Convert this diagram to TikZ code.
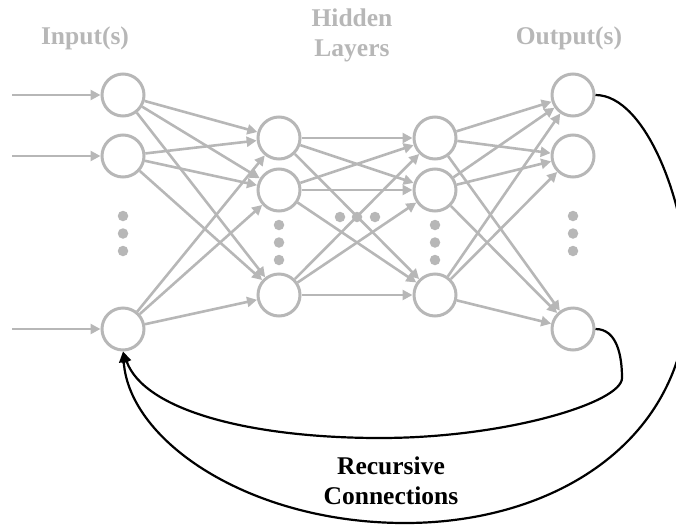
\documentclass[tikz,border=0pt]{standalone}
\usepackage{fontspec}
\setmainfont{Liberation Serif}
\usetikzlibrary{arrows.meta}
\definecolor{netGray}{RGB}{183,183,183}
\newcommand{\verticalDots}[3]{%%
  %% Three dots standing for the nodes left out.
  \node[dotStyle] (#1a) at (#2,#3) {};
  \node[dotStyle] (#1b) at (#2,#3-17.5) {};
  \node[dotStyle] (#1c) at (#2,#3-35) {};
}
\newcommand{\fullLink}[2]{%%
  %% Every node of one layer to every node of the next.
  \foreach \s in {1,2,3}{%%
    \foreach \t in {1,2,3}{%%
      \draw[linkStyle] (#1\s) -- (#2\t);
    }
  }
}

\begin{document}
\begin{tikzpicture}[%%
  x=1pt,y=1pt,
  neuronStyle/.style={draw=netGray,circle,line width=3pt,minimum size=42pt,inner sep=0pt},%%
  linkStyle/.style={-{Triangle[length=10pt,width=10pt]},draw=netGray,fill=netGray,line width=2.6pt},%%
  dotStyle/.style={circle,fill=netGray,minimum size=10.5pt,inner sep=0pt},%%
  labelStyle/.style={font=\bfseries\fontsize{25.5}{30}\selectfont,text=netGray,align=center},%%
  loopStyle/.style={-{Triangle[length=11pt,width=9pt]},black,line width=2.2pt}
]
\clip (0,0) rectangle (676,-525);
%%
%% The layers.
\node[neuronStyle] (in1) at (123,-95) {};
\node[neuronStyle] (in2) at (123,-156) {};
\node[neuronStyle] (in3) at (123,-329) {};
\node[neuronStyle] (ha1) at (279,-138) {};
\node[neuronStyle] (ha2) at (279,-190) {};
\node[neuronStyle] (ha3) at (279,-295) {};
\node[neuronStyle] (hb1) at (435,-138) {};
\node[neuronStyle] (hb2) at (435,-190) {};
\node[neuronStyle] (hb3) at (435,-295) {};
\node[neuronStyle] (out1) at (573,-95) {};
\node[neuronStyle] (out2) at (573,-156) {};
\node[neuronStyle] (out3) at (573,-329) {};
%%
%% The nodes left out.
\verticalDots{inDot}{123}{-216}
\verticalDots{haDot}{279}{-225}
\verticalDots{hbDot}{435}{-225}
\verticalDots{outDot}{573}{-216}
\node[dotStyle] (midDotA) at (340,-217) {};
\node[dotStyle] (midDotB) at (357,-217) {};
\node[dotStyle] (midDotC) at (375,-217) {};
%%
%% The inputs.
\coordinate (src1) at (12,-95);
\coordinate (src2) at (12,-156);
\coordinate (src3) at (12,-329);
\draw[linkStyle] (src1) -- (in1);
\draw[linkStyle] (src2) -- (in2);
\draw[linkStyle] (src3) -- (in3);
%%
%% The weights.
\fullLink{in}{ha}
\fullLink{ha}{hb}
\fullLink{hb}{out}
%%
%% The titles.
\node[labelStyle] (inputTitle) at (85,-38.5) {Input(s)};
\node[labelStyle] (hiddenTitle) at (352,-35) {Hidden\\Layers};
\node[labelStyle] (outputTitle) at (569,-38.5) {Output(s)};
\node[labelStyle,text=black] (loopTitle) at (391,-481) {Recursive\\Connections};
%%
%% The recursive connections.
\coordinate (innerTurn) at (622,-378);
\coordinate (innerBase) at (380,-438);
\coordinate (outerTurn) at (688,-290);
\coordinate (outerBase) at (405,-523);
\draw[loopStyle] (out3.east) to[out=0,in=90] (innerTurn)
  to[out=-90,in=0,out looseness=0.25,in looseness=1.3] (innerBase)
  to[out=180,in=-70,out looseness=1.2,in looseness=0.6] (in3.south);
\draw[loopStyle] (out1.east) to[out=0,in=90,out looseness=0.6] (outerTurn)
  to[out=-90,in=0,looseness=1.05] (outerBase)
  to[out=180,in=-86,out looseness=1.2,in looseness=0.7] (in3.south);
\end{tikzpicture}
\end{document}
